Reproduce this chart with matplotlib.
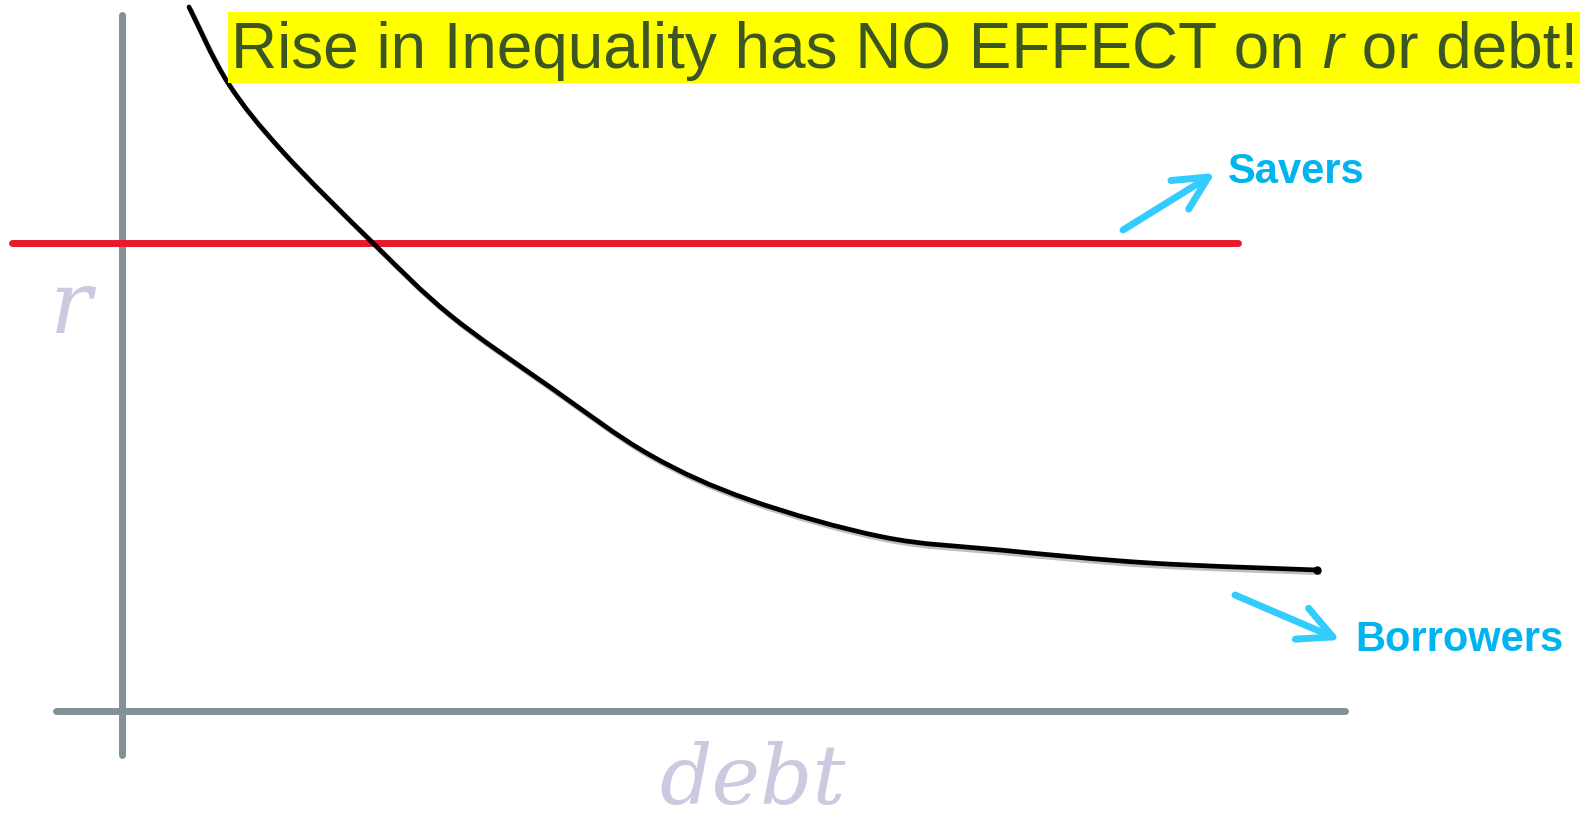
import matplotlib
matplotlib.use("Agg")
import matplotlib.pyplot as plt
import matplotlib.patheffects as pe
from matplotlib.patches import Rectangle, PathPatch
from matplotlib.path import Path

# curve of borrowers' demand (debt, r) in pixel-like units
curve_debt = [189, 228, 283, 373, 450, 550, 650, 750, 883, 1000, 1150, 1317]
curve_r = [7, 83, 152, 243, 315, 387, 455, 500, 537, 550, 563, 570]

# savers' supply: flat at r
savers_debt = [12, 1238]
savers_r = [243, 243]

# axes of the diagram
y_axis_debt = [121.5, 121.5]
y_axis_r = [15, 755]
x_axis_debt = [56, 1345]
x_axis_r = [711, 711]

# shift arrows (tail, tip)
savers_arrow = [(1123, 230), (1215, 173)]
borrowers_arrow = [(1235, 595), (1340, 640)]

title_parts = ["Rise in Inequality has NO EFFECT on", " r", " or debt!"]


def smooth_path(xs, ys):
    # catmull-rom through the points, drawn as cubic bezier segments
    pts = list(zip(xs, ys))
    verts = [pts[0]]
    codes = [Path.MOVETO]
    n = len(pts)
    for i in range(n - 1):
        p0 = pts[max(i - 1, 0)]
        p1 = pts[i]
        p2 = pts[i + 1]
        p3 = pts[min(i + 2, n - 1)]
        c1 = (p1[0] + (p2[0] - p0[0]) / 6, p1[1] + (p2[1] - p0[1]) / 6)
        c2 = (p2[0] - (p3[0] - p1[0]) / 6, p2[1] - (p3[1] - p1[1]) / 6)
        verts += [c1, c2, p2]
        codes += [Path.CURVE4] * 3
    return Path(verts, codes)


W, H = 1589, 814
dpi = 100
fig = plt.figure(figsize=(W / dpi, H / dpi), dpi=dpi)
fig.patch.set_facecolor("white")
ax = fig.add_axes([0, 0, 1, 1])
ax.set_xlim(0, W)
ax.set_ylim(H, 0)
ax.axis("off")

axis_color = "#829196"
ax.plot(y_axis_debt, y_axis_r, color=axis_color, lw=5, solid_capstyle="round", zorder=1)
ax.plot(x_axis_debt, x_axis_r, color=axis_color, lw=5, solid_capstyle="round", zorder=1)

ax.plot(savers_debt, savers_r, color="#e8192c", lw=5, solid_capstyle="round", zorder=2)

curve = PathPatch(smooth_path(curve_debt, curve_r), facecolor="none", edgecolor="black",
                  lw=3.4, capstyle="round", zorder=3,
                  path_effects=[pe.SimpleLineShadow(offset=(1.5, -2), alpha=0.25),
                                pe.Normal()])
ax.add_patch(curve)
ax.plot(curve_debt[-1:], curve_r[-1:], "o", color="black", ms=5, zorder=3)

arrow_color = "#33ccff"
for tail, tip in [savers_arrow, borrowers_arrow]:
    ax.annotate("", xy=tip, xytext=tail,
                arrowprops=dict(arrowstyle="->,head_length=1.1,head_width=0.55",
                                color=arrow_color, lw=5, mutation_scale=22,
                                shrinkA=0, shrinkB=0, capstyle="round"))

label_color = "#00b4f0"
ax.text(1228, 183, "Savers", color=label_color, fontsize=30, fontweight="bold",
        family="Liberation Sans", va="baseline", ha="left")
ax.text(1355, 651, "Borrowers", color=label_color, fontsize=30, fontweight="bold",
        family="Liberation Sans", va="baseline", ha="left")

ghost = "#cccae0"
ax.text(71, 333, "r", color=ghost, fontsize=63, style="italic",
        family="DejaVu Serif", ha="center", va="baseline")
ax.text(753, 804, "debt", color=ghost, fontsize=59, style="italic",
        family="DejaVu Serif", ha="center", va="baseline")

# title on yellow band
ax.add_patch(Rectangle((228, 12), 1352, 71, facecolor="#ffff00", edgecolor="none", zorder=4))
title_color = "#3b5523"
t = ax.text(231, 68, title_parts[0], color=title_color, fontsize=46,
            family="Liberation Sans", va="baseline", ha="left", zorder=5)
t = ax.annotate(title_parts[1], xy=(1, 0), xycoords=t, va="bottom", ha="left",
                color=title_color, fontsize=46, family="Liberation Sans",
                style="italic", zorder=5)
t = ax.annotate(title_parts[2], xy=(1, 0), xycoords=t, va="bottom", ha="left",
                color=title_color, fontsize=46, family="Liberation Sans", zorder=5)

plt.savefig("out.png", dpi=dpi, facecolor="white")
